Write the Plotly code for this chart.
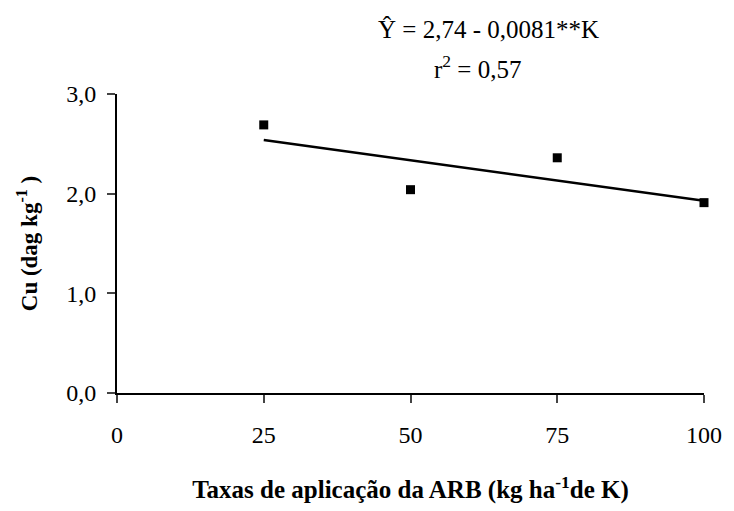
import plotly.graph_objects as go

# Application rates of ARB (kg/ha of K) and measured Cu
doses = [25, 50, 75, 100]
cu = [2.69, 2.04, 2.36, 1.91]

# Fitted linear model: Y = 2.74 - 0.0081 K
b0 = 2.74
b1 = -0.0081
fit_x = [25, 100]
fit_y = [b0 + b1 * k for k in fit_x]

x_ticks = [0, 25, 50, 75, 100]
y_ticks = [0, 1, 2, 3]
y_tick_text = ["0,0", "1,0", "2,0", "3,0"]

font_family = "Liberation Serif, Times New Roman, serif"

# plot area in pixels
L, R, T, B = 117, 713, 94, 395
W, H = 734, 511

fig = go.Figure()
fig.add_trace(go.Scatter(
    x=fit_x, y=fit_y, mode="lines",
    line=dict(color="black", width=2.5), showlegend=False,
))
fig.add_trace(go.Scatter(
    x=doses, y=cu, mode="markers", cliponaxis=False,
    marker=dict(symbol="square", size=9, color="black"), showlegend=False,
))

fig.update_layout(
    width=W, height=H,
    margin=dict(l=L, r=W - R, t=T, b=H - B),
    paper_bgcolor="white", plot_bgcolor="white",
    font=dict(family=font_family, size=24, color="black"),
    xaxis=dict(
        range=[0, 100], tickvals=x_ticks, ticks="outside", ticklen=8, tickwidth=2,
        showline=True, linecolor="black", linewidth=2, showgrid=False, zeroline=False,
        tickfont=dict(size=24), ticklabelstandoff=11,
        title=dict(text="<b>Taxas de aplicação da ARB (kg ha<sup>-1</sup>de K)</b>",
                   font=dict(size=25), standoff=34),
    ),
    yaxis=dict(
        range=[0, 3], tickvals=y_ticks, ticktext=y_tick_text, ticks="outside",
        ticklen=8, tickwidth=2, showline=True, linecolor="black", linewidth=2,
        showgrid=False, zeroline=False, tickfont=dict(size=24), ticklabelstandoff=6,
        title=dict(text="<b>Cu (dag kg<sup>-1</sup> )</b>", font=dict(size=23), standoff=22),
    ),
    annotations=[
        dict(text="Ŷ = 2,74 - 0,0081**K", xref="paper", yref="paper",
             x=(494 - L) / (R - L), y=1 + (T - 29) / (B - T), showarrow=False,
             xanchor="center", yanchor="middle", font=dict(size=25)),
        dict(text="r<sup>2</sup> = 0,57", xref="paper", yref="paper",
             x=(483 - L) / (R - L), y=1 + (T - 67) / (B - T), showarrow=False,
             xanchor="center", yanchor="middle", font=dict(size=25)),
    ],
)

fig.write_html("out.html")
